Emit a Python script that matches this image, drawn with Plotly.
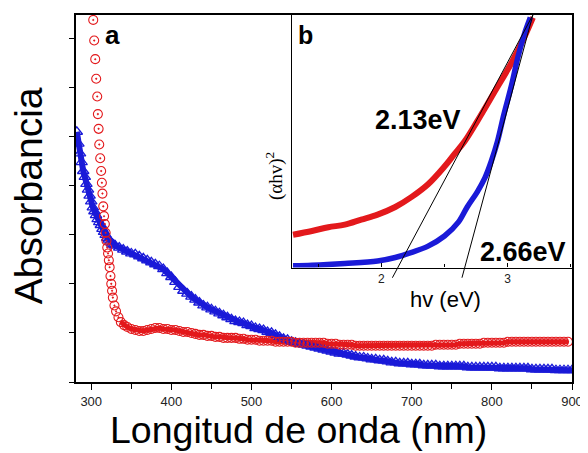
import plotly.graph_objects as go

# ---------------- main panel (a): absorbance vs wavelength ----------------
red_wl = [302.5, 303.7, 305.0, 306.2, 307.5, 308.3, 309.2, 310.0, 311.2, 312.4, 313.3, 314.0,
          315, 316, 317, 318, 319, 320, 321, 322, 323, 324, 325, 326, 327, 329, 331, 334, 337, 341] + \
         list(range(345, 901, 5))
red_abs = [3.69, 3.48, 3.29, 3.09, 2.91, 2.73, 2.58, 2.42, 2.28, 2.15, 2.03, 1.92,
           1.79, 1.69, 1.61, 1.52, 1.44, 1.37, 1.31, 1.24, 1.17, 1.08, 1.00, 0.93, 0.86, 0.78, 0.72, 0.66, 0.61, 0.58,
           # 345 .. 900 every 5 nm
           0.56, 0.54, 0.53, 0.52, 0.52, 0.53, 0.54, 0.55, 0.55, 0.54, 0.54, 0.53, 0.53, 0.52, 0.51, 0.51,
           0.50, 0.49, 0.48, 0.48, 0.47, 0.47, 0.46, 0.46, 0.45, 0.45, 0.45, 0.45, 0.44, 0.44, 0.43, 0.43,
           0.43, 0.42, 0.42, 0.42, 0.42, 0.41, 0.41, 0.41, 0.41, 0.41, 0.40, 0.40, 0.40, 0.40, 0.40, 0.40,
           0.40, 0.40, 0.39, 0.39, 0.39, 0.38, 0.38, 0.38, 0.38, 0.37, 0.37, 0.37, 0.37, 0.37, 0.37, 0.37,
           0.37, 0.37, 0.37, 0.37, 0.37, 0.37, 0.37, 0.37, 0.37, 0.37, 0.37, 0.37, 0.37, 0.38, 0.38, 0.38,
           0.38, 0.38, 0.38, 0.39, 0.39, 0.39, 0.39, 0.39, 0.39, 0.40, 0.40, 0.40, 0.40, 0.40, 0.40, 0.41,
           0.41, 0.41, 0.41, 0.41, 0.41, 0.41, 0.41, 0.41, 0.41, 0.41, 0.41, 0.41, 0.41, 0.41, 0.41]

blue_wl = list(range(282, 330, 2)) + list(range(330, 901, 5))
blue_abs = [2.55, 2.43, 2.33, 2.24, 2.15, 2.09, 2.02, 1.96, 1.90, 1.84, 1.78, 1.74,
            1.70, 1.66, 1.63, 1.60, 1.56, 1.53, 1.50, 1.47, 1.45, 1.43, 1.41, 1.40,
            # 330 .. 900 every 5 nm
            1.39, 1.37, 1.35, 1.33, 1.31, 1.30, 1.28, 1.26, 1.24, 1.22, 1.20, 1.18, 1.15, 1.11, 1.07, 1.02,
            0.97, 0.93, 0.90, 0.87, 0.84, 0.81, 0.78, 0.76, 0.74, 0.72, 0.70, 0.68, 0.66, 0.64, 0.62, 0.61,
            0.60, 0.58, 0.57, 0.55, 0.54, 0.53, 0.51, 0.50, 0.48, 0.46, 0.44, 0.43, 0.41, 0.40, 0.39, 0.38,
            0.37, 0.36, 0.35, 0.34, 0.33, 0.32, 0.31, 0.30, 0.29, 0.29, 0.28, 0.27, 0.26, 0.25, 0.25, 0.24,
            0.23, 0.23, 0.22, 0.22, 0.21, 0.20, 0.20, 0.19, 0.19, 0.19, 0.18, 0.18, 0.18, 0.17, 0.17, 0.17,
            0.17, 0.16, 0.16, 0.16, 0.16, 0.16, 0.16, 0.16, 0.15, 0.15, 0.15, 0.15, 0.15, 0.15, 0.15, 0.15,
            0.14, 0.14, 0.14, 0.14, 0.14, 0.14, 0.14, 0.14, 0.13, 0.13, 0.13, 0.13, 0.13, 0.13, 0.12, 0.12,
            0.12, 0.12, 0.12]

x_ticks = [300, 400, 500, 600, 700, 800, 900]

# ---------------- inset (b): Tauc plot ----------------
tauc_ev_red = [1.30, 1.45, 1.58, 1.71, 1.84, 1.97, 2.11, 2.24, 2.37, 2.50, 2.58, 2.66, 2.76, 2.89, 3.03, 3.13, 3.20]
tauc_red = [0.13, 0.145, 0.16, 0.17, 0.19, 0.21, 0.24, 0.28, 0.33, 0.40, 0.45, 0.50, 0.58, 0.69, 0.81, 0.91, 0.99]
tauc_ev_blue = [1.30, 1.45, 1.71, 1.97, 2.11, 2.24, 2.37, 2.50, 2.61, 2.68, 2.76, 2.82, 2.87, 2.92, 2.97, 3.03,
                3.08, 3.13, 3.18]
tauc_blue = [0.007, 0.009, 0.016, 0.026, 0.04, 0.06, 0.085, 0.125, 0.18, 0.24, 0.30, 0.355, 0.42, 0.50, 0.605,
             0.72, 0.83, 0.92, 0.99]
band_gaps = [2.13, 2.66]          # eV, x-intercepts of the tangent lines
tangent_top_ev = 3.20             # where both tangents reach the top of the inset
gap_labels = ["2.13eV", "2.66eV"]

RED = "#e3191c"
BLUE = "#1a1ad8"
FONT = "Liberation Sans, Arial, sans-serif"

main_xrange = [281, 900]
main_yrange = [0, 3.74]
ins_xrange = [1.29, 3.51]
ins_yrange = [0, 1.0]

fig = go.Figure()

# solid bands underneath the markers (dense data region)
red_flat_start = red_wl.index(337)
fig.add_trace(go.Scatter(
    x=blue_wl, y=blue_abs, mode="lines", xaxis="x", yaxis="y",
    line=dict(color=BLUE, width=6), showlegend=False, hoverinfo="skip"))
fig.add_trace(go.Scatter(
    x=red_wl[red_flat_start:], y=red_abs[red_flat_start:], mode="lines", xaxis="x", yaxis="y",
    line=dict(color=RED, width=5), showlegend=False, hoverinfo="skip"))

fig.add_trace(go.Scatter(
    x=blue_wl, y=blue_abs, mode="markers", xaxis="x", yaxis="y",
    marker=dict(symbol="triangle-up-open", size=10, color=BLUE, line=dict(width=1.3, color=BLUE)),
    showlegend=False))
fig.add_trace(go.Scatter(
    x=red_wl, y=red_abs, mode="markers", xaxis="x", yaxis="y",
    marker=dict(symbol="circle-open-dot", size=9, color=RED, line=dict(width=1.1, color=RED)),
    showlegend=False))

fig.add_trace(go.Scatter(
    x=tauc_ev_red, y=tauc_red, mode="lines", xaxis="x2", yaxis="y2",
    line=dict(color=RED, width=6, shape="spline"), showlegend=False))
fig.add_trace(go.Scatter(
    x=tauc_ev_blue, y=tauc_blue, mode="lines", xaxis="x2", yaxis="y2",
    line=dict(color=BLUE, width=5.5, shape="spline"), showlegend=False))

# tangent lines (drawn in inset-domain units so they may run slightly below the axis)
def to_dom(v, rng):
    return (v - rng[0]) / (rng[1] - rng[0])

for eg in band_gaps:
    slope = (ins_yrange[1] - 0) / (tangent_top_ev - eg)
    y_low = -0.04
    x_low = eg + y_low / slope
    fig.add_shape(type="line", xref="x2 domain", yref="y2 domain",
                  x0=to_dom(x_low, ins_xrange), y0=to_dom(y_low, ins_yrange),
                  x1=to_dom(tangent_top_ev, ins_xrange), y1=to_dom(ins_yrange[1], ins_yrange),
                  line=dict(color="black", width=1))

# The page body adds an 8 px offset, so the figure is 8 px smaller and margins compensate.
fig.update_layout(
    width=580, height=445,
    margin=dict(l=68, r=13, t=5, b=71),
    paper_bgcolor="white", plot_bgcolor="white",
    font=dict(family=FONT, color="black"),
    xaxis=dict(domain=[0, 1], range=main_xrange, tickvals=x_ticks, ticks="outside", ticklen=6,
               tickwidth=1.3, tickcolor="black", showline=True, linecolor="black", linewidth=1.6,
               mirror=True, showgrid=False, zeroline=False, tickfont=dict(size=13, color="#222"),
               ticklabelstandoff=1,
               minor=dict(dtick=50, tick0=300, ticks="outside", ticklen=5, tickwidth=1.3, tickcolor="black",
                          showgrid=False)),
    yaxis=dict(domain=[0, 1], range=main_yrange, dtick=1, tick0=0, ticks="outside", ticklen=5,
               tickwidth=1.3, tickcolor="black", showticklabels=False, showline=True, linecolor="black",
               linewidth=1.6, mirror=True, showgrid=False, zeroline=False,
               minor=dict(dtick=0.5, tick0=0, ticks="outside", ticklen=5, tickwidth=1.3, tickcolor="black",
                          showgrid=False)),
    xaxis2=dict(domain=[0.435, 1.0], anchor="y2", range=ins_xrange, tickvals=[2, 3], ticks="inside",
                ticklen=4, tickcolor="black", showline=True, linecolor="black", linewidth=1.3, mirror=True,
                showgrid=False, zeroline=False, tickfont=dict(size=12, color="#222"),
                minor=dict(dtick=0.5, tick0=1, ticks="inside", ticklen=3, tickcolor="black", showgrid=False)),
    yaxis2=dict(domain=[0.3117, 1.0], anchor="x2", range=ins_yrange, showticklabels=False, ticks="",
                showline=True, linecolor="black", linewidth=1.3, mirror=True, showgrid=False, zeroline=False),
)

# white background for the inset
fig.add_shape(type="rect", xref="x2 domain", yref="y2 domain", x0=0, y0=0, x1=1, y1=1,
              fillcolor="white", line=dict(width=0), layer="below")

ann = [
    dict(text="Absorbancia", x=-0.094, y=0.507, textangle=-90, font=dict(size=39),
         xanchor="center", yanchor="middle"),
    dict(text="Longitud de onda (nm)", x=0.449, y=-0.1924, font=dict(size=37.5),
         xanchor="center", yanchor="bottom"),
    dict(text="<b>a</b>", x=0.074, y=0.945, font=dict(size=26), xanchor="center", yanchor="middle"),
    dict(text="<b>b</b>", x=0.463, y=0.945, font=dict(size=25), xanchor="center", yanchor="middle"),
    dict(text="<b>" + gap_labels[0] + "</b>", x=0.689, y=0.715, font=dict(size=27),
         xanchor="center", yanchor="middle"),
    dict(text="<b>" + gap_labels[1] + "</b>", x=0.902, y=0.355, font=dict(size=27),
         xanchor="center", yanchor="middle"),
    dict(text="hv (eV)", x=0.745, y=0.225, font=dict(size=22), xanchor="center", yanchor="middle"),
    dict(text="(\u03b1hv)<sup>2</sup>", x=0.399, y=0.561, textangle=-90,
         font=dict(size=19, family="Liberation Serif, Times New Roman, serif"),
         xanchor="center", yanchor="middle"),
]
for a in ann:
    fig.add_annotation(xref="paper", yref="paper", showarrow=False, **a)

fig.write_html("out.html")
